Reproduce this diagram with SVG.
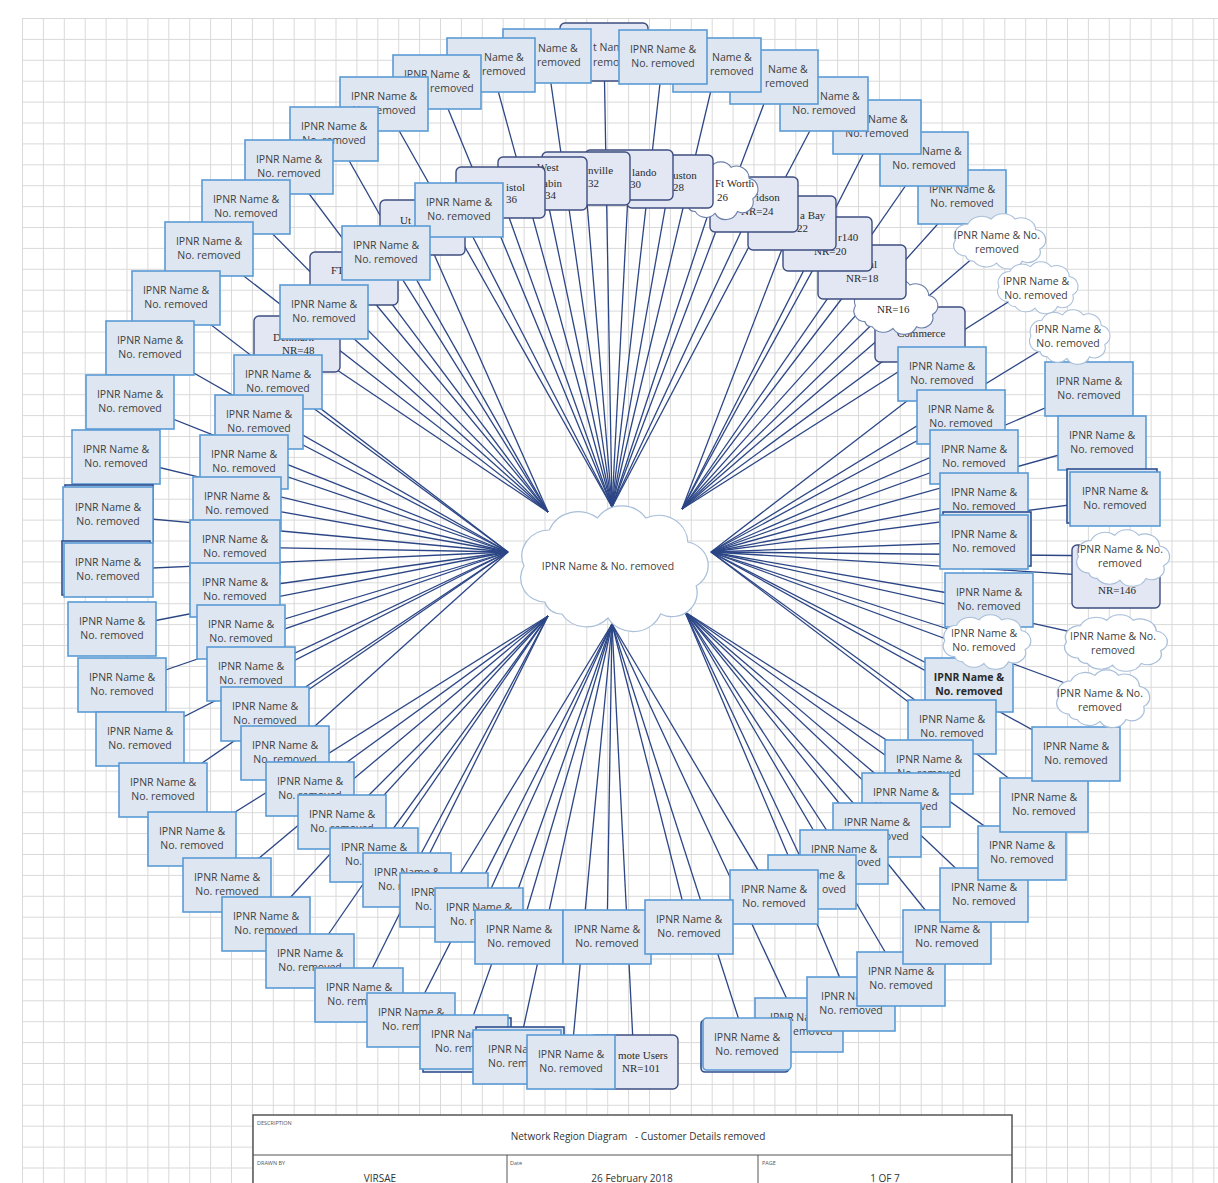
<svg xmlns="http://www.w3.org/2000/svg" xmlns:xlink="http://www.w3.org/1999/xlink" width="1218" height="1183" viewBox="0 0 1218 1183">
<style>
.c line{stroke:#2c4685;stroke-width:1.3;fill:none}
.b{fill:#dde6f1;stroke:#5b9bd5;stroke-width:1.6}
.sh{fill:#dde6f1;stroke:#2f4f8f;stroke-width:1.6}
.n{fill:#e2e7f3;stroke:#3e4d80;stroke-width:1.4}
.k{fill:#fff;stroke:#a9bfd9;stroke-width:1.2}
.kn{fill:#fff;stroke:#6b7fa8;stroke-width:1.2}
.t{font-family:"Open Sans","Liberation Sans",sans-serif;font-size:10.5px;fill:#3f3f3f;text-anchor:middle}
.tb{font-weight:bold;fill:#2a2a2a}
.ts{font-family:"Open Sans","Liberation Sans",sans-serif;font-size:10.5px;fill:#3f3f3f}
.s{font-family:"Liberation Serif",serif;font-size:11px;fill:#2b2b2b}
.h{font-family:"Open Sans","Liberation Sans",sans-serif;font-size:5.5px;fill:#555}
.m{font-family:"Open Sans","Liberation Sans",sans-serif;font-size:10px;fill:#333;text-anchor:middle;white-space:pre}
</style>
<defs>
<pattern id="gp" width="20.9" height="20.9" patternUnits="userSpaceOnUse" x="22" y="18"><path d="M0 0.5H20.9M0.5 0V20.9" stroke="#d9d9d9" stroke-width="1" fill="none"/></pattern>
<path id="cl" d="M20,50 A12,12 0 0 1 10,32 A13,13 0 0 1 22,14 A15,15 0 0 1 45,8 A14,14 0 0 1 68,8 A14,14 0 0 1 88,20 A12,12 0 0 1 92,42 A12,12 0 0 1 75,56 A14,14 0 0 1 50,58 A14,14 0 0 1 28,56 A8,8 0 0 1 20,50 Z"/>
</defs>
<rect width="1218" height="1183" fill="#fff"/>
<rect x="22" y="18" width="1196" height="1165" fill="url(#gp)"/>

<g id="connectors" class="c">
<line x1="612" y1="507" x2="604" y2="52"/><line x1="612" y1="507" x2="663" y2="57"/><line x1="612" y1="507" x2="717" y2="65"/><line x1="612" y1="507" x2="774" y2="77"/><line x1="612" y1="507" x2="824" y2="104"/>
<line x1="682" y1="509" x2="877" y2="127"/><line x1="682" y1="509" x2="924" y2="159"/><line x1="682" y1="509" x2="962" y2="197"/><line x1="682" y1="509" x2="996" y2="238"/><line x1="682" y1="509" x2="1035" y2="285"/>
<line x1="711" y1="552" x2="1067" y2="334"/><line x1="711" y1="552" x2="1089" y2="389"/><line x1="711" y1="552" x2="1102" y2="443"/><line x1="711" y1="552" x2="1115" y2="499"/><line x1="711" y1="552" x2="1116" y2="577"/><line x1="711" y1="552" x2="1120" y2="556"/><line x1="711" y1="552" x2="1112" y2="641"/><line x1="711" y1="552" x2="1100" y2="696"/><line x1="711" y1="552" x2="1076" y2="754"/><line x1="711" y1="552" x2="1044" y2="805"/>
<line x1="685" y1="612" x2="1022" y2="853"/><line x1="685" y1="612" x2="984" y2="895"/><line x1="685" y1="612" x2="947" y2="937"/><line x1="685" y1="612" x2="901" y2="979"/><line x1="685" y1="612" x2="851" y2="1004"/>
<line x1="612" y1="624" x2="799" y2="1025"/><line x1="612" y1="624" x2="747" y2="1045"/><line x1="612" y1="624" x2="634" y2="1062"/><line x1="612" y1="624" x2="571" y2="1062"/><line x1="612" y1="624" x2="517" y2="1057"/><line x1="612" y1="624" x2="464" y2="1042"/><line x1="612" y1="624" x2="411" y2="1020"/>
<line x1="548" y1="616" x2="359" y2="995"/><line x1="548" y1="616" x2="310" y2="961"/><line x1="548" y1="616" x2="266" y2="924"/><line x1="548" y1="616" x2="227" y2="885"/><line x1="548" y1="616" x2="192" y2="839"/>
<line x1="508" y1="552" x2="163" y2="790"/><line x1="508" y1="552" x2="140" y2="739"/><line x1="508" y1="552" x2="122" y2="685"/><line x1="508" y1="552" x2="112" y2="629"/><line x1="508" y1="552" x2="108" y2="570"/><line x1="508" y1="552" x2="108" y2="515"/><line x1="508" y1="552" x2="116" y2="457"/><line x1="508" y1="552" x2="130" y2="402"/><line x1="508" y1="552" x2="150" y2="348"/><line x1="508" y1="552" x2="176" y2="298"/>
<line x1="548" y1="512" x2="209" y2="249"/><line x1="548" y1="512" x2="246" y2="207"/><line x1="548" y1="512" x2="289" y2="167"/><line x1="548" y1="512" x2="334" y2="134"/>
<line x1="612" y1="507" x2="384" y2="104"/><line x1="612" y1="507" x2="437" y2="82"/><line x1="612" y1="507" x2="491" y2="65"/><line x1="612" y1="507" x2="547" y2="56"/>
<line x1="612" y1="507" x2="459" y2="210"/><line x1="548" y1="512" x2="386" y2="253"/><line x1="548" y1="512" x2="324" y2="312"/>
<line x1="508" y1="552" x2="278" y2="382"/><line x1="508" y1="552" x2="259" y2="422"/><line x1="508" y1="552" x2="244" y2="462"/><line x1="508" y1="552" x2="237" y2="504"/><line x1="508" y1="552" x2="234" y2="547"/><line x1="508" y1="552" x2="234" y2="590"/><line x1="508" y1="552" x2="241" y2="632"/><line x1="508" y1="552" x2="251" y2="674"/><line x1="508" y1="552" x2="265" y2="714"/><line x1="508" y1="552" x2="285" y2="753"/>
<line x1="548" y1="616" x2="310" y2="789"/><line x1="548" y1="616" x2="342" y2="822"/><line x1="548" y1="616" x2="374" y2="855"/><line x1="548" y1="616" x2="407" y2="880"/>
<line x1="612" y1="624" x2="444" y2="900"/><line x1="612" y1="624" x2="479" y2="915"/><line x1="612" y1="624" x2="519" y2="937"/><line x1="612" y1="624" x2="607" y2="937"/><line x1="612" y1="624" x2="689" y2="927"/><line x1="612" y1="624" x2="774" y2="897"/>
<line x1="685" y1="612" x2="812" y2="882"/><line x1="685" y1="612" x2="844" y2="857"/><line x1="685" y1="612" x2="877" y2="830"/><line x1="685" y1="612" x2="906" y2="800"/><line x1="685" y1="612" x2="929" y2="767"/>
<line x1="711" y1="552" x2="952" y2="727"/><line x1="711" y1="552" x2="969" y2="685"/><line x1="711" y1="552" x2="982" y2="640"/><line x1="711" y1="552" x2="989" y2="600"/><line x1="711" y1="552" x2="984" y2="542"/><line x1="711" y1="552" x2="984" y2="500"/><line x1="711" y1="552" x2="974" y2="457"/><line x1="711" y1="552" x2="961" y2="417"/><line x1="711" y1="552" x2="942" y2="374"/>
<line x1="548" y1="512" x2="297" y2="343"/><line x1="548" y1="512" x2="354" y2="278"/><line x1="548" y1="512" x2="422" y2="227"/>
<line x1="612" y1="507" x2="500" y2="192"/><line x1="612" y1="507" x2="544" y2="184"/><line x1="612" y1="507" x2="585" y2="178"/><line x1="612" y1="507" x2="629" y2="175"/><line x1="612" y1="507" x2="670" y2="181"/><line x1="612" y1="507" x2="717" y2="187"/><line x1="612" y1="507" x2="754" y2="204"/>
<line x1="682" y1="509" x2="792" y2="223"/><line x1="682" y1="509" x2="827" y2="244"/><line x1="682" y1="509" x2="862" y2="272"/><line x1="682" y1="509" x2="892" y2="305"/><line x1="682" y1="509" x2="920" y2="334"/>
</g>

<g id="hub"><use href="#cl" class="k" style="stroke-width:0.6" transform="translate(503,502) scale(2.1,2.0)"/><text class="t" x="608" y="570">IPNR Name &amp; No. removed</text></g>

<!-- site nodes -->
<g id="s15"><rect class="n" x="875" y="307" width="90" height="55" rx="5"/><text class="s" x="902" y="324">on-</text><text class="s" x="897" y="337">Commerce</text></g>
<g id="s14"><use href="#cl" class="kn" transform="translate(846,278) scale(0.94,0.87)"/><text class="s" x="877" y="313">NR=16</text></g>
<g id="s13"><rect class="n" x="818" y="245" width="88" height="54" rx="5"/><text class="s" x="869" y="268">al</text><text class="s" x="846" y="282">NR=18</text></g>
<g id="s12"><rect class="n" x="783" y="217" width="89" height="54" rx="5"/><text class="s" x="838" y="241">r140</text><text class="s" x="814" y="255">NR=20</text></g>
<g id="s11"><rect class="n" x="748" y="196" width="88" height="54" rx="5"/><text class="s" x="800" y="219">a Bay</text><text class="s" x="797" y="232">22</text></g>
<g id="s10"><rect class="n" x="710" y="177" width="88" height="55" rx="5"/><text class="s" x="756" y="201">idson</text><text class="s" x="741" y="215">NR=24</text></g>
<g id="s9"><use href="#cl" class="kn" transform="translate(670,160) scale(0.9,0.92)"/><text class="s" x="715" y="187">Ft Worth</text><text class="s" x="717" y="201">26</text></g>
<g id="s8"><rect class="n" x="627" y="155" width="86" height="53" rx="5"/><text class="s" x="673" y="179">uston</text><text class="s" x="673" y="191">28</text></g>
<g id="s7"><rect class="n" x="585" y="150" width="88" height="50" rx="5"/><text class="s" x="632" y="176">lando</text><text class="s" x="630" y="188">30</text></g>
<g id="s6"><rect class="n" x="542" y="152" width="88" height="53" rx="5"/><text class="s" x="588" y="174">nville</text><text class="s" x="588" y="187">32</text></g>
<g id="s5"><rect class="n" x="498" y="157" width="89" height="53" rx="5"/><text class="s" x="537" y="171">West</text><text class="s" x="543" y="187">abin</text><text class="s" x="545" y="199">34</text></g>
<g id="s4"><rect class="n" x="456" y="167" width="89" height="51" rx="5"/><text class="s" x="506" y="191">istol</text><text class="s" x="506" y="203">36</text></g>
<g id="s3"><rect class="n" x="380" y="200" width="85" height="55" rx="5"/><text class="s" x="400" y="224">Ut</text></g>
<g id="s2"><rect class="n" x="310" y="252" width="88" height="53" rx="5"/><text class="s" x="331" y="274">FT</text></g>
<g id="s1"><rect class="n" x="254" y="316" width="86" height="56" rx="5"/><text class="s" x="273" y="341">Denmark</text><text class="s" x="282" y="354">NR=48</text></g>

<!-- inner ring -->
<g id="i1"><rect class="b" x="415" y="183" width="88" height="54"/><text class="t" x="459" y="206">IPNR Name &amp;<tspan x="459" dy="14">No. removed</tspan></text></g>
<g id="i2"><rect class="b" x="342" y="226" width="88" height="54"/><text class="t" x="386" y="249">IPNR Name &amp;<tspan x="386" dy="14">No. removed</tspan></text></g>
<g id="i3"><rect class="b" x="280" y="285" width="88" height="54"/><text class="t" x="324" y="308">IPNR Name &amp;<tspan x="324" dy="14">No. removed</tspan></text></g>
<g id="i4"><rect class="b" x="234" y="355" width="88" height="54"/><text class="t" x="278" y="378">IPNR Name &amp;<tspan x="278" dy="14">No. removed</tspan></text></g>
<g id="i5"><rect class="b" x="215" y="395" width="88" height="54"/><text class="t" x="259" y="418">IPNR Name &amp;<tspan x="259" dy="14">No. removed</tspan></text></g>
<g id="i6"><rect class="b" x="200" y="435" width="88" height="54"/><text class="t" x="244" y="458">IPNR Name &amp;<tspan x="244" dy="14">No. removed</tspan></text></g>
<g id="i7"><rect class="b" x="193" y="477" width="88" height="54"/><text class="t" x="237" y="500">IPNR Name &amp;<tspan x="237" dy="14">No. removed</tspan></text></g>
<g id="i8"><rect class="b" x="190" y="520" width="90" height="54"/><text class="t" x="235" y="543">IPNR Name &amp;<tspan x="235" dy="14">No. removed</tspan></text></g>
<g id="i9"><rect class="b" x="190" y="563" width="90" height="54"/><text class="t" x="235" y="586">IPNR Name &amp;<tspan x="235" dy="14">No. removed</tspan></text></g>
<g id="i10"><rect class="b" x="197" y="605" width="88" height="54"/><text class="t" x="241" y="628">IPNR Name &amp;<tspan x="241" dy="14">No. removed</tspan></text></g>
<g id="i11"><rect class="b" x="207" y="647" width="88" height="54"/><text class="t" x="251" y="670">IPNR Name &amp;<tspan x="251" dy="14">No. removed</tspan></text></g>
<g id="i12"><rect class="b" x="221" y="687" width="88" height="54"/><text class="t" x="265" y="710">IPNR Name &amp;<tspan x="265" dy="14">No. removed</tspan></text></g>
<g id="i13"><rect class="b" x="241" y="726" width="88" height="54"/><text class="t" x="285" y="749">IPNR Name &amp;<tspan x="285" dy="14">No. removed</tspan></text></g>
<g id="i14"><rect class="b" x="266" y="762" width="88" height="54"/><text class="t" x="310" y="785">IPNR Name &amp;<tspan x="310" dy="14">No. removed</tspan></text></g>
<g id="i15"><rect class="b" x="298" y="795" width="88" height="54"/><text class="t" x="342" y="818">IPNR Name &amp;<tspan x="342" dy="14">No. removed</tspan></text></g>
<g id="i16"><rect class="b" x="330" y="828" width="88" height="54"/><text class="t" x="374" y="851">IPNR Name &amp;</text><text class="ts" x="345" y="865">No. r</text></g>
<g id="i17"><rect class="b" x="363" y="853" width="88" height="54"/><text class="t" x="407" y="876">IPNR Name &amp;</text><text class="ts" x="378" y="890">No. re</text></g>
<g id="i18"><rect class="b" x="400" y="873" width="88" height="54"/><text class="t" x="444" y="896">IPNR Name &amp;</text><text class="ts" x="415" y="910">No. re</text></g>
<g id="i19"><rect class="b" x="435" y="888" width="88" height="54"/><text class="t" x="479" y="911">IPNR Name &amp;</text><text class="ts" x="450" y="925">No. re</text></g>
<g id="i20"><rect class="b" x="475" y="910" width="88" height="54"/><text class="t" x="519" y="933">IPNR Name &amp;<tspan x="519" dy="14">No. removed</tspan></text></g>
<g id="i21"><rect class="b" x="563" y="910" width="88" height="54"/><text class="t" x="607" y="933">IPNR Name &amp;<tspan x="607" dy="14">No. removed</tspan></text></g>
<g id="i37"><rect class="b" x="898" y="347" width="88" height="54"/><text class="t" x="942" y="370">IPNR Name &amp;<tspan x="942" dy="14">No. removed</tspan></text></g>
<g id="i36"><rect class="b" x="917" y="390" width="88" height="54"/><text class="t" x="961" y="413">IPNR Name &amp;<tspan x="961" dy="14">No. removed</tspan></text></g>
<g id="i35"><rect class="b" x="930" y="430" width="88" height="54"/><text class="t" x="974" y="453">IPNR Name &amp;<tspan x="974" dy="14">No. removed</tspan></text></g>
<g id="i34"><rect class="b" x="940" y="473" width="88" height="54"/><text class="t" x="984" y="496">IPNR Name &amp;<tspan x="984" dy="14">No. removed</tspan></text></g>
<g id="i33"><rect class="sh" x="943" y="512" width="88" height="54"/><rect class="b" x="940" y="515" width="88" height="54"/><text class="t" x="984" y="538">IPNR Name &amp;<tspan x="984" dy="14">No. removed</tspan></text></g>
<g id="i32"><rect class="b" x="945" y="573" width="88" height="54"/><text class="t" x="989" y="596">IPNR Name &amp;<tspan x="989" dy="14">No. removed</tspan></text></g>
<g id="i30"><rect class="b" x="925" y="658" width="88" height="54"/><text class="t tb" x="969" y="681">IPNR Name &amp;<tspan x="969" dy="14">No. removed</tspan></text></g>
<g id="i31"><use href="#cl" class="k" transform="translate(935,613) scale(0.98,0.87)"/><text class="t" x="984" y="637">IPNR Name &amp;<tspan x="984" dy="14">No. removed</tspan></text></g>
<g id="i29"><rect class="b" x="908" y="700" width="88" height="54"/><text class="t" x="952" y="723">IPNR Name &amp;<tspan x="952" dy="14">No. removed</tspan></text></g>
<g id="i28"><rect class="b" x="885" y="740" width="88" height="54"/><text class="t" x="929" y="763">IPNR Name &amp;<tspan x="929" dy="14">No. removed</tspan></text></g>
<g id="i27"><rect class="b" x="862" y="773" width="88" height="54"/><text class="t" x="906" y="796">IPNR Name &amp;<tspan x="906" dy="14">No. removed</tspan></text></g>
<g id="i26"><rect class="b" x="833" y="803" width="88" height="54"/><text class="t" x="877" y="826">IPNR Name &amp;<tspan x="877" dy="14">No. removed</tspan></text></g>
<g id="i25"><rect class="b" x="800" y="830" width="88" height="54"/><text class="t" x="844" y="853">IPNR Name &amp;</text><text class="ts" x="857" y="866">oved</text></g>
<g id="i24"><rect class="b" x="768" y="855" width="88" height="54"/><text class="t" x="812" y="879">IPNR Name &amp;</text><text class="ts" x="822" y="893">oved</text></g>
<g id="i23"><rect class="b" x="730" y="870" width="88" height="54"/><text class="t" x="774" y="893">IPNR Name &amp;<tspan x="774" dy="14">No. removed</tspan></text></g>
<g id="i22"><rect class="b" x="645" y="900" width="88" height="54"/><text class="t" x="689" y="923">IPNR Name &amp;<tspan x="689" dy="14">No. removed</tspan></text></g>

<!-- outer ring -->
<g id="o1"><rect class="n" x="560" y="23" width="88" height="58" rx="5"/><text class="ts" x="593" y="51">t Nam</text><text class="ts" x="593" y="66">remo</text></g>
<g id="o12"><rect class="b" x="1045" y="362" width="88" height="54"/><text class="t" x="1089" y="385">IPNR Name &amp;<tspan x="1089" dy="14">No. removed</tspan></text></g>
<g id="o13"><rect class="b" x="1058" y="416" width="88" height="54"/><text class="t" x="1102" y="439">IPNR Name &amp;<tspan x="1102" dy="14">No. removed</tspan></text></g>
<g id="o8"><rect class="b" x="918" y="170" width="88" height="54"/><text class="t" x="962" y="193">IPNR Name &amp;<tspan x="962" dy="14">No. removed</tspan></text></g>
<g id="o9"><use href="#cl" class="k" transform="translate(945,212) scale(1.03,0.88)"/><text class="t" x="997" y="239">IPNR Name &amp; No.<tspan x="997" dy="14">removed</tspan></text></g>
<g id="o10"><use href="#cl" class="k" transform="translate(990,260) scale(0.9,0.83)"/><text class="t" x="1036" y="285">IPNR Name &amp;<tspan x="1036" dy="14">No. removed</tspan></text></g>
<g id="o11"><use href="#cl" class="k" transform="translate(1022,308) scale(0.9,0.87)"/><text class="t" x="1068" y="333">IPNR Name &amp;<tspan x="1068" dy="14">No. removed</tspan></text></g>
<g id="o7"><rect class="b" x="880" y="132" width="88" height="54"/><text class="ts" x="922" y="155">Name &amp;</text><text class="t" x="924" y="169">No. removed</text></g>
<g id="o6"><rect class="b" x="833" y="100" width="88" height="54"/><text class="ts" x="868" y="123">Name &amp;</text><text class="t" x="877" y="137">No. removed</text></g>
<g id="o5"><rect class="b" x="780" y="77" width="88" height="54"/><text class="ts" x="820" y="100">Name &amp;</text><text class="t" x="824" y="114">No. removed</text></g>
<g id="o4"><rect class="b" x="730" y="50" width="88" height="54"/><text class="ts" x="768" y="73">Name &amp;</text><text class="ts" x="765" y="87">removed</text></g>
<g id="o3"><rect class="b" x="673" y="38" width="88" height="54"/><text class="ts" x="712" y="61">Name &amp;</text><text class="ts" x="710" y="75">removed</text></g>
<g id="o2"><rect class="b" x="619" y="30" width="88" height="54"/><text class="t" x="663" y="53">IPNR Name &amp;<tspan x="663" dy="14">No. removed</tspan></text></g>
<g id="o55"><rect class="b" x="503" y="29" width="88" height="54"/><text class="ts" x="538" y="52">Name &amp;</text><text class="ts" x="537" y="66">removed</text></g>
<g id="o54"><rect class="b" x="447" y="38" width="88" height="54"/><text class="ts" x="484" y="61">Name &amp;</text><text class="ts" x="482" y="75">removed</text></g>
<g id="o53"><rect class="b" x="393" y="55" width="88" height="54"/><text class="t" x="437" y="78">IPNR Name &amp;</text><text class="ts" x="430" y="92">removed</text></g>
<g id="o52"><rect class="b" x="340" y="77" width="88" height="54"/><text class="t" x="384" y="100">IPNR Name &amp;<tspan x="384" dy="14">No. removed</tspan></text></g>
<g id="o51"><rect class="b" x="290" y="107" width="88" height="54"/><text class="t" x="334" y="130">IPNR Name &amp;<tspan x="334" dy="14">No. removed</tspan></text></g>
<g id="o50"><rect class="b" x="245" y="140" width="88" height="54"/><text class="t" x="289" y="163">IPNR Name &amp;<tspan x="289" dy="14">No. removed</tspan></text></g>
<g id="o49"><rect class="b" x="202" y="180" width="88" height="54"/><text class="t" x="246" y="203">IPNR Name &amp;<tspan x="246" dy="14">No. removed</tspan></text></g>
<g id="o48"><rect class="b" x="165" y="222" width="88" height="54"/><text class="t" x="209" y="245">IPNR Name &amp;<tspan x="209" dy="14">No. removed</tspan></text></g>
<g id="o47"><rect class="b" x="132" y="271" width="88" height="54"/><text class="t" x="176" y="294">IPNR Name &amp;<tspan x="176" dy="14">No. removed</tspan></text></g>
<g id="o46"><rect class="b" x="106" y="321" width="88" height="54"/><text class="t" x="150" y="344">IPNR Name &amp;<tspan x="150" dy="14">No. removed</tspan></text></g>
<g id="o45"><rect class="b" x="86" y="375" width="88" height="54"/><text class="t" x="130" y="398">IPNR Name &amp;<tspan x="130" dy="14">No. removed</tspan></text></g>
<g id="o44"><rect class="b" x="72" y="430" width="88" height="54"/><text class="t" x="116" y="453">IPNR Name &amp;<tspan x="116" dy="14">No. removed</tspan></text></g>
<g id="o43"><rect class="sh" x="65" y="485" width="88" height="56"/><rect class="b" x="63" y="487" width="90" height="56"/><text class="t" x="108" y="511">IPNR Name &amp;<tspan x="108" dy="14">No. removed</tspan></text></g>
<g id="o42"><rect class="sh" x="62" y="541" width="88" height="54"/><rect class="b" x="64" y="543" width="89" height="54"/><text class="t" x="108" y="566">IPNR Name &amp;<tspan x="108" dy="14">No. removed</tspan></text></g>
<g id="o41"><rect class="b" x="68" y="602" width="88" height="54"/><text class="t" x="112" y="625">IPNR Name &amp;<tspan x="112" dy="14">No. removed</tspan></text></g>
<g id="o40"><rect class="b" x="78" y="658" width="88" height="54"/><text class="t" x="122" y="681">IPNR Name &amp;<tspan x="122" dy="14">No. removed</tspan></text></g>
<g id="o39"><rect class="b" x="96" y="712" width="88" height="54"/><text class="t" x="140" y="735">IPNR Name &amp;<tspan x="140" dy="14">No. removed</tspan></text></g>
<g id="o38"><rect class="b" x="119" y="763" width="88" height="54"/><text class="t" x="163" y="786">IPNR Name &amp;<tspan x="163" dy="14">No. removed</tspan></text></g>
<g id="o37"><rect class="b" x="148" y="812" width="88" height="54"/><text class="t" x="192" y="835">IPNR Name &amp;<tspan x="192" dy="14">No. removed</tspan></text></g>
<g id="o36"><rect class="b" x="183" y="858" width="88" height="54"/><text class="t" x="227" y="881">IPNR Name &amp;<tspan x="227" dy="14">No. removed</tspan></text></g>
<g id="o35"><rect class="b" x="222" y="897" width="88" height="54"/><text class="t" x="266" y="920">IPNR Name &amp;<tspan x="266" dy="14">No. removed</tspan></text></g>
<g id="o34"><rect class="b" x="266" y="934" width="88" height="54"/><text class="t" x="310" y="957">IPNR Name &amp;<tspan x="310" dy="14">No. removed</tspan></text></g>
<g id="o33"><rect class="b" x="315" y="968" width="88" height="54"/><text class="t" x="359" y="991">IPNR Name &amp;<tspan x="359" dy="14">No. removed</tspan></text></g>
<g id="o32"><rect class="b" x="367" y="993" width="88" height="54"/><text class="t" x="411" y="1016">IPNR Name &amp;</text><text class="ts" x="382" y="1030">No. rem</text></g>
<g id="o31"><rect class="sh" x="423" y="1018" width="88" height="54"/><rect class="b" x="420" y="1015" width="88" height="54"/><text class="t" x="464" y="1038">IPNR Name &amp;</text><text class="ts" x="435" y="1052">No. rem</text></g>
<g id="o30"><rect class="sh" x="476" y="1027" width="88" height="54"/><rect class="b" x="473" y="1030" width="88" height="54"/><text class="ts" x="488" y="1053">IPNR Nam</text><text class="ts" x="488" y="1067">No. rem</text></g>
<g id="o28"><rect class="n" x="590" y="1035" width="88" height="54" rx="5"/><text class="s" x="618" y="1059">mote Users</text><text class="s" x="622" y="1072">NR=101</text></g>
<g id="o29"><rect class="b" x="527" y="1035" width="88" height="54"/><text class="t" x="571" y="1058">IPNR Name &amp;<tspan x="571" dy="14">No. removed</tspan></text></g>
<g id="o26"><rect class="b" x="755" y="998" width="88" height="54"/><text class="ts" x="770" y="1021">IPNR Na</text><text class="ts" x="793" y="1035">emoved</text></g>
<g id="o27"><rect class="sh" x="701" y="1020" width="88" height="52" rx="4"/><rect class="b" x="703" y="1018" width="88" height="52" rx="4"/><text class="t" x="747" y="1041">IPNR Name &amp;<tspan x="747" dy="14">No. removed</tspan></text></g>
<g id="o25"><rect class="b" x="807" y="977" width="88" height="54"/><text class="ts" x="821" y="1000">IPNR Na</text><text class="t" x="851" y="1014">No. removed</text></g>
<g id="o24"><rect class="b" x="857" y="952" width="88" height="54"/><text class="t" x="901" y="975">IPNR Name &amp;<tspan x="901" dy="14">No. removed</tspan></text></g>
<g id="o23"><rect class="b" x="903" y="910" width="88" height="54"/><text class="t" x="947" y="933">IPNR Name &amp;<tspan x="947" dy="14">No. removed</tspan></text></g>
<g id="o22"><rect class="b" x="940" y="868" width="88" height="54"/><text class="t" x="984" y="891">IPNR Name &amp;<tspan x="984" dy="14">No. removed</tspan></text></g>
<g id="o21"><rect class="b" x="978" y="826" width="88" height="54"/><text class="t" x="1022" y="849">IPNR Name &amp;<tspan x="1022" dy="14">No. removed</tspan></text></g>
<g id="o20"><rect class="b" x="1000" y="778" width="88" height="54"/><text class="t" x="1044" y="801">IPNR Name &amp;<tspan x="1044" dy="14">No. removed</tspan></text></g>
<g id="o19"><rect class="b" x="1032" y="727" width="88" height="54"/><text class="t" x="1076" y="750">IPNR Name &amp;<tspan x="1076" dy="14">No. removed</tspan></text></g>
<g id="o18"><use href="#cl" class="k" transform="translate(1048,668) scale(1.04,0.92)"/><text class="t" x="1100" y="697">IPNR Name &amp; No.<tspan x="1100" dy="14">removed</tspan></text></g>
<g id="o17"><use href="#cl" class="k" transform="translate(1055,613) scale(1.15,0.9)"/><text class="t" x="1113" y="640">IPNR Name &amp; No.<tspan x="1113" dy="14">removed</tspan></text></g>
<g id="o15"><rect class="n" x="1072" y="545" width="88" height="63" rx="5"/><text class="s" x="1098" y="594">NR=146</text></g>
<g id="o16"><use href="#cl" class="k" transform="translate(1068,528) scale(1.04,0.9)"/><text class="t" x="1120" y="553">IPNR Name &amp; No.<tspan x="1120" dy="14">removed</tspan></text></g>
<g id="o14"><rect class="sh" x="1067" y="469" width="90" height="54"/><rect class="b" x="1070" y="472" width="90" height="54"/><text class="t" x="1115" y="495">IPNR Name &amp;<tspan x="1115" dy="14">No. removed</tspan></text></g>

<g id="titleblock">
<rect x="253" y="1115" width="759" height="80" fill="#fff" stroke="#555" stroke-width="1.5"/>
<line x1="253" y1="1155" x2="1012" y2="1155" stroke="#555" stroke-width="1.2"/>
<line x1="507" y1="1155" x2="507" y2="1183" stroke="#555" stroke-width="1"/>
<line x1="758" y1="1155" x2="758" y2="1183" stroke="#555" stroke-width="1"/>
<text class="h" x="257" y="1125">DESCRIPTION</text>
<text class="m" x="638" y="1140" xml:space="preserve">Network Region Diagram   - Customer Details removed</text>
<text class="h" x="257" y="1165">DRAWN BY</text>
<text class="m" x="380" y="1182">VIRSAE</text>
<text class="h" x="510" y="1165">Date</text>
<text class="m" x="632" y="1182">26 February 2018</text>
<text class="h" x="762" y="1165">PAGE</text>
<text class="m" x="885" y="1182">1 OF 7</text>
</g>
</svg>
